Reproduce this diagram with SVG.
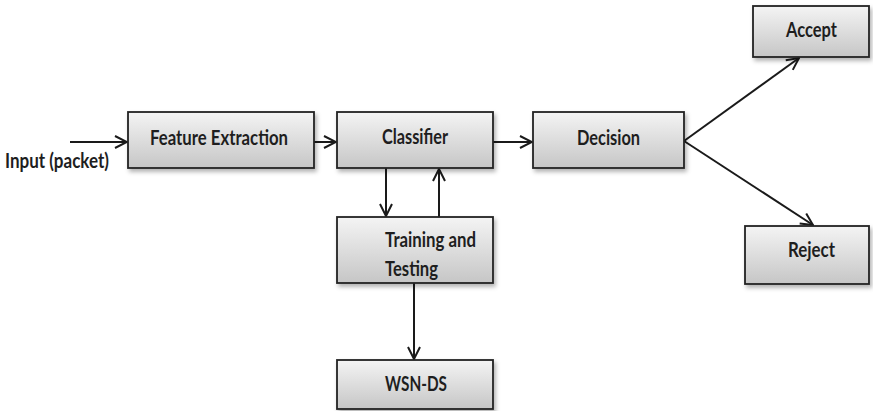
<svg xmlns="http://www.w3.org/2000/svg" width="873" height="411" viewBox="0 0 873 411">
<defs>
<linearGradient id="g" x1="0" y1="0" x2="0" y2="1">
<stop offset="0" stop-color="#f4f4f4"/>
<stop offset="1" stop-color="#c6c6c6"/>
</linearGradient>
<filter id="sh" x="-10%" y="-10%" width="125%" height="140%">
<feDropShadow dx="2" dy="3" stdDeviation="2" flood-color="#000" flood-opacity="0.3"/>
</filter>
<marker id="ah" viewBox="0 0 14 14" refX="13" refY="7" markerWidth="14" markerHeight="14" markerUnits="userSpaceOnUse" orient="auto">
<path d="M1,1 L13,7 L1,13" fill="none" stroke="#1a1a1a" stroke-width="2"/>
</marker>
</defs>
<style>
.box{fill:url(#g);stroke:#222;stroke-width:1.8;filter:url(#sh)}
.t{font-family:Lato,"Liberation Sans",sans-serif;font-weight:bold;font-size:21px;fill:#1e1e1e}
.c{stroke:#1a1a1a;stroke-width:2;fill:none;marker-end:url(#ah)}
</style>
<rect width="873" height="411" fill="#fff"/>
<g id="connectors">
<line class="c" x1="70" y1="142" x2="127" y2="142"/>
<line class="c" x1="314" y1="142" x2="336" y2="142"/>
<line class="c" x1="493" y1="142" x2="532" y2="142"/>
<line class="c" x1="386" y1="168" x2="386" y2="216"/>
<line class="c" x1="439" y1="217" x2="439" y2="169"/>
<line class="c" x1="414" y1="283" x2="414" y2="359"/>
<line class="c" x1="684" y1="141" x2="799" y2="58"/>
<line class="c" x1="684" y1="141" x2="813" y2="225"/>
</g>
<g id="input"><text class="t" x="5" y="168" textLength="104" lengthAdjust="spacingAndGlyphs">Input (packet)</text></g>
<g id="feature"><rect class="box" x="128" y="112" width="186" height="56"/><text class="t" x="150" y="145" textLength="138" lengthAdjust="spacingAndGlyphs">Feature Extraction</text></g>
<g id="classifier"><rect class="box" x="337" y="112" width="156" height="56"/><text class="t" x="382" y="144" textLength="66" lengthAdjust="spacingAndGlyphs">Classifier</text></g>
<g id="decision"><rect class="box" x="533" y="112" width="151" height="56"/><text class="t" x="577" y="145" textLength="63" lengthAdjust="spacingAndGlyphs">Decision</text></g>
<g id="training"><rect class="box" x="337" y="217" width="156" height="66"/><text class="t" x="385" y="247" textLength="91" lengthAdjust="spacingAndGlyphs">Training and</text><text class="t" x="385" y="276" textLength="53" lengthAdjust="spacingAndGlyphs">Testing</text></g>
<g id="wsnds"><rect class="box" x="337" y="360" width="156" height="49"/><text class="t" x="385" y="391" textLength="62" lengthAdjust="spacingAndGlyphs">WSN-DS</text></g>
<g id="accept"><rect class="box" x="753" y="6" width="116" height="51"/><text class="t" x="786" y="37" textLength="51" lengthAdjust="spacingAndGlyphs">Accept</text></g>
<g id="reject"><rect class="box" x="745" y="226" width="124" height="58"/><text class="t" x="788" y="257" textLength="47" lengthAdjust="spacingAndGlyphs">Reject</text></g>
</svg>
